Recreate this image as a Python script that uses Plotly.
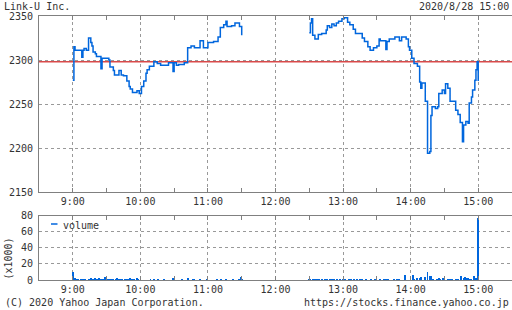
import plotly.graph_objects as go

DATE = "2020-08-28 "
TITLE = "Link-U Inc."
STAMP = "2020/8/28 15:00"
PREV_CLOSE = 2298

am_times = ["09:00","09:01","09:02","09:08","09:09","09:10","09:12","09:14","09:16","09:17",
            "09:18","09:20","09:21","09:25","09:26","09:32","09:33","09:36","09:37","09:41",
            "09:43","09:45","09:48","09:50","09:51","09:53","09:57","09:59","10:01","10:03",
            "10:05","10:06","10:08","10:12","10:15","10:18","10:25","10:29","10:30","10:32",
            "10:34","10:39","10:42","10:45","10:48","10:53","10:56","11:00","11:05","11:09",
            "11:11","11:14","11:16","11:17","11:21","11:24","11:28","11:30"]
am_prices = [2277,2315,2311,2303,2311,2313,2311,2325,2320,2316,
             2309,2307,2304,2290,2302,2300,2292,2288,2283,2288,
             2283,2282,2276,2270,2267,2263,2265,2262,2270,2276,
             2285,2289,2293,2298,2296,2294,2297,2287,2297,2294,
             2295,2297,2314,2316,2314,2322,2314,2320,2321,2326,
             2337,2340,2344,2338,2339,2342,2338,2328]

pm_times = ["12:30","12:31","12:32","12:33","12:35","12:38","12:41","12:45","12:46","12:48",
            "12:50","12:52","12:54","12:56","12:59","13:01","13:04","13:06","13:09","13:11",
            "13:17","13:19","13:22","13:24","13:27","13:30","13:32","13:33","13:38","13:39",
            "13:41","13:46","13:50","13:52","13:56","13:58","13:59","14:01","14:03","14:06",
            "14:08","14:09","14:10","14:13","14:15","14:17","14:18","14:19","14:22","14:24",
            "14:25","14:28","14:30","14:31","14:33","14:35","14:40","14:42","14:44","14:46",
            "14:47","14:49","14:51","14:52","14:54","14:55","14:57","14:58","14:59","15:00"]
pm_prices = [2331,2342,2347,2328,2324,2329,2330,2334,2339,2337,
             2341,2339,2342,2344,2347,2348,2343,2340,2335,2330,
             2325,2321,2315,2311,2314,2316,2324,2322,2312,2321,
             2324,2326,2322,2326,2324,2315,2311,2302,2296,2293,
             2275,2268,2274,2253,2194,2196,2237,2247,2245,2247,
             2262,2266,2262,2273,2268,2253,2243,2238,2229,2207,
             2226,2230,2228,2251,2258,2266,2277,2289,2298,2276]

vol_times = ["09:00","09:01","09:02","09:03","09:05","09:07","09:08","09:10","09:11","09:14",
             "09:15","09:16","09:18","09:20","09:21","09:22","09:23","09:25","09:26","09:27",
             "09:29","09:31","09:33","09:35","09:36","09:38","09:39","09:41","09:42","09:44",
             "09:46","09:48","09:49","09:51","09:52","09:53","09:54","09:57","09:58","10:09",
             "10:12","10:16","10:21","10:29","10:30","10:37","10:42","10:47","10:48","10:53",
             "10:59","11:08","11:12","11:16","11:22","11:28","11:29","11:30",
             "12:30","12:31","12:33","12:35","12:37","12:39","12:41","12:44","12:46","12:48",
             "12:50","12:52","12:55","12:57","13:00","13:02","13:05","13:07","13:10","13:12",
             "13:15","13:17","13:20","13:25","13:28","13:33","13:36","13:38","13:40","13:45",
             "13:48","13:50","13:55","14:02","14:03","14:06","14:08","14:09","14:13","14:15",
             "14:17","14:18","14:20","14:23","14:25","14:26","14:29","14:33","14:35","14:37",
             "14:40","14:42","14:45","14:47","14:48","14:49","14:51","14:52","14:54","14:56",
             "14:58","14:59","15:00"]
vol_values = [10,2,3,1.5,1,1.5,2,1.5,0.8,1.5,
              2,3,1,3,2,1.5,3,1.5,0.8,0.8,
              4,0.8,0.8,1.5,1.5,0.8,2.5,1.5,0.8,1.5,
              0.8,1,1.5,3,1.5,1.5,0.8,3,0.8,1.5,
              1,1.5,1,3.5,1,1.5,2.5,1,0.8,1,
              0.8,0.8,1,0.8,1,1.5,4,0.8,
              2,1.5,1.5,1.5,1,1.5,1,1,1.5,1,
              1,1.5,1,1.5,1,1.5,1,1,1,1,
              1,1,1,1,1,1,1,1.5,0.8,0.8,
              1,0.8,6.5,6.5,2,2.5,3,4,4,10.5,
              5,5.5,2,2,3,2,3,1.5,1.5,1.5,
              1.5,2,5,3,4,3.5,3.5,2,2,5,
              2.5,3,78]

hours = ["09:00","10:00","11:00","12:00","13:00","14:00","15:00"]
hour_labels = ["9:00","10:00","11:00","12:00","13:00","14:00","15:00"]
halves = ["08:30","09:30","10:30","11:30","12:30","13:30","14:30","15:30"]
price_ticks = [2150, 2200, 2250, 2300, 2350]
vol_ticks = [0, 20, 40, 60, 80]

BLUE = "#0066dd"
GRID = "#999999"
AXIS = "#808080"
TXT = "#333333"
FONT = "DejaVu Sans Mono"

W, H = 512, 310
ML, MR, MT, MB = 39, 0, 16, 30
PW, PH = W - ML - MR, H - MT - MB

def px(x):
    return (x - ML) / PW

def py(y):
    return (H - MB - y) / PH

px_x = [DATE + t for t in am_times] + [DATE + "12:00"] + [DATE + t for t in pm_times]
px_y = am_prices + [None] + pm_prices

fig = go.Figure()
fig.add_trace(go.Scatter(x=px_x, y=px_y, mode="lines", connectgaps=False,
                         line=dict(color=BLUE, width=1.5, shape="hv"),
                         xaxis="x", yaxis="y", showlegend=False, hoverinfo="skip"))
fig.add_trace(go.Bar(x=[DATE + t for t in vol_times], y=vol_values,
                     width=50000, marker=dict(color=BLUE, line=dict(width=0)),
                     xaxis="x2", yaxis="y2", showlegend=False, name="volume"))

xcommon = dict(
    range=[DATE + "08:30", DATE + "15:30"], type="date",
    tickvals=[DATE + h for h in hours], ticktext=hour_labels,
    showgrid=True, gridcolor=GRID, gridwidth=1, griddash="3px,3px",
    showline=True, linecolor=AXIS, linewidth=1, mirror="ticks",
    ticks="inside", ticklen=4, tickcolor=AXIS,
    minor=dict(tickvals=[DATE + h for h in halves], ticks="inside", ticklen=4,
               tickcolor=AXIS, showgrid=False),
    tickfont=dict(family=FONT, size=10, color=TXT), zeroline=False, fixedrange=True,
)
ycommon = dict(
    showgrid=True, gridcolor=GRID, gridwidth=1, griddash="3px,3px",
    showline=True, linecolor=AXIS, linewidth=1, mirror=False,
    ticks="outside", ticklen=3, tickcolor="rgba(0,0,0,0)",
    tickfont=dict(family=FONT, size=10, color=TXT), zeroline=False, fixedrange=True,
)

fig.update_layout(
    width=W, height=H, autosize=False,
    margin=dict(l=ML, r=MR, t=MT, b=MB),
    paper_bgcolor="white", plot_bgcolor="white",
    font=dict(family=FONT, size=10, color=TXT),
    bargap=0,
    xaxis=dict(domain=[0, 1], anchor="y", **xcommon),
    yaxis=dict(domain=[1 - 176 / PH, 1], anchor="x", range=[2150, 2350],
               tickvals=price_ticks, **ycommon),
    xaxis2=dict(domain=[0, 1], anchor="y2", **xcommon),
    yaxis2=dict(domain=[0, 64.5 / PH], anchor="x2", range=[0, 80],
                tickvals=vol_ticks, **ycommon),
    shapes=[
        dict(type="line", xref="paper", yref="y", x0=0, x1=1,
             y0=PREV_CLOSE, y1=PREV_CLOSE, line=dict(color="#d94a4a", width=1.5), layer="below"),
        dict(type="line", xref="paper", yref="paper", x0=px(51), x1=px(57.5),
             y0=py(224), y1=py(224), line=dict(color=BLUE, width=1.5)),
    ],
    annotations=[
        dict(text=TITLE, xref="paper", yref="paper", x=px(2), y=py(7),
             xanchor="left", yanchor="middle", showarrow=False),
        dict(text=STAMP, xref="paper", yref="paper", x=px(511), y=py(7),
             xanchor="right", yanchor="middle", showarrow=False),
        dict(text="(C) 2020 Yahoo Japan Corporation.", xref="paper", yref="paper",
             x=px(3), y=py(302), xanchor="left", yanchor="middle", showarrow=False),
        dict(text="https://stocks.finance.yahoo.co.jp", xref="paper", yref="paper",
             x=px(511), y=py(302), xanchor="right", yanchor="middle", showarrow=False),
        dict(text="(x1000)", xref="paper", yref="paper", x=px(7.5), y=py(258),
             xanchor="center", yanchor="middle", textangle=-90, showarrow=False),
        dict(text="volume", xref="paper", yref="paper", x=px(61), y=py(225),
             xanchor="left", yanchor="middle", showarrow=False),
    ],
)

fig.write_html("out.html")
